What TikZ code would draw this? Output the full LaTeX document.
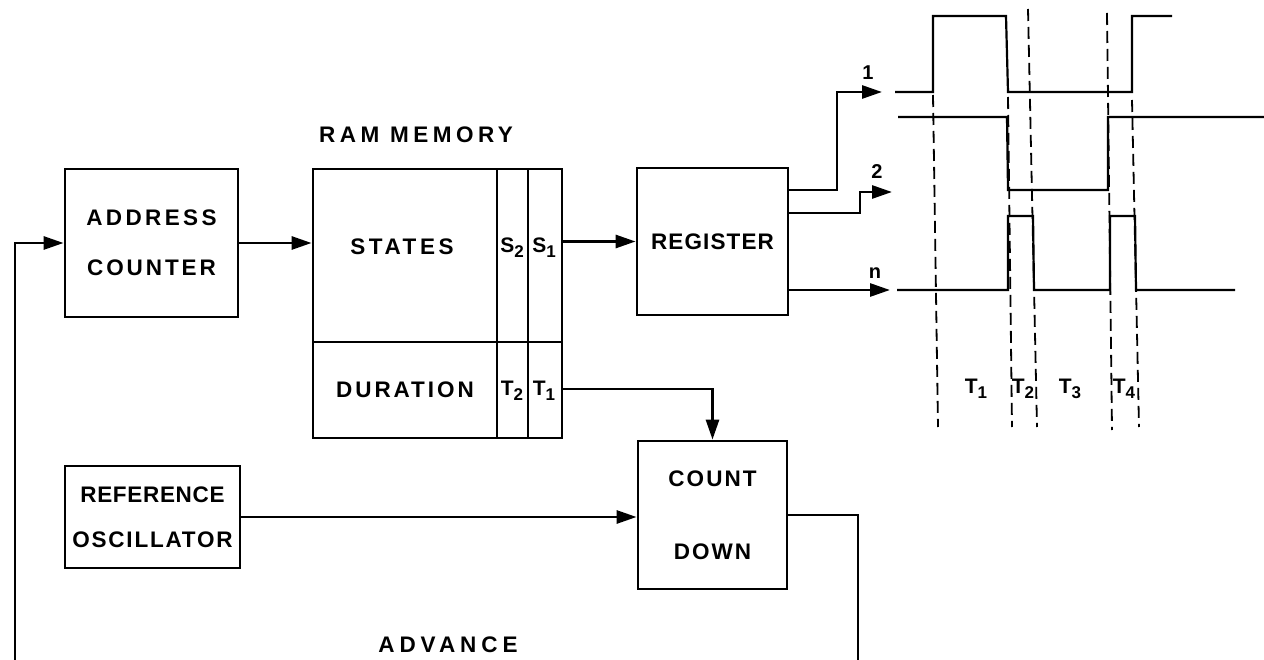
\documentclass[tikz,border=0pt]{standalone}
\usepackage{fontspec}
\setmainfont{Liberation Sans}
\usetikzlibrary{arrows.meta}
\newcommand{\lsp}[2]{{\addfontfeature{LetterSpace=#1}#2}}
\newcommand{\sbs}[1]{\raisebox{-0.45ex}{\fontsize{17}{17}\selectfont #1}}
\begin{document}
\begin{tikzpicture}[x=1pt,y=-1pt,
  box/.style={draw, line width=2.8pt, inner sep=0pt},
  wire/.style={line width=2.8pt},
  arr/.style={line width=2.8pt, -{Triangle[length=20pt,width=13pt]}},
  wave/.style={line width=2.2pt},
  dsh/.style={line width=1.8pt, dash pattern=on 12pt off 6pt},
  lbl/.style={font=\bfseries\fontsize{22.5}{27}\selectfont, inner sep=0pt},
  sml/.style={font=\bfseries\fontsize{21}{25}\selectfont, inner sep=0pt},
  num/.style={font=\bfseries\fontsize{20}{22}\selectfont, inner sep=0pt}
]
\useasboundingbox (0,0) rectangle (1264,660);

% blocks
\node[box, lbl, align=center, minimum width=173pt, minimum height=148pt] (addr) at (151.5,243)
  {\lsp{15}{ADDRESS}\\[23pt]\lsp{13}{COUNTER}};
\node[box, minimum width=249pt, minimum height=269pt] (ram) at (437.5,303.5) {};
\node[box, lbl, minimum width=151pt, minimum height=147pt] (reg) at (712.5,241.5) {\lsp{5}{REGISTER}};
\node[box, lbl, align=center, minimum width=149pt, minimum height=148pt] (cd) at (712.5,515)
  {\lsp{9}{COUNT}\\[46pt]\lsp{9}{DOWN}};
\node[box, lbl, align=center, minimum width=175pt, minimum height=102pt] (osc) at (152.5,517)
  {\lsp{3}{REFERENCE}\\[18pt]\lsp{8}{OSCILLATOR}};

% RAM inner divisions
\draw[wire] (313,342) -- (562,342);
\draw[wire] (497,169) -- (497,438);
\draw[wire] (528,169) -- (528,438);
\node[lbl] (states) at (402,247) {\lsp{16}{STATES}};
\node[lbl] (dur) at (405,390) {\lsp{13}{DURATION}};
\node[sml] (s2) at (512,248) {S\sbs{2}};
\node[sml] (s1) at (544,248) {S\sbs{1}};
\node[sml] (tt2) at (512,391) {T\sbs{2}};
\node[sml] (tt1) at (544,391) {T\sbs{1}};
\node[lbl] (ramlbl) at (416,135) {\lsp{20}{RAM MEMORY}};
\node[lbl] (adv) at (448,645) {\lsp{22}{ADVANCE}};

% connectors
\coordinate (fb) at (15,662);
\coordinate (advend) at (858,662);
\coordinate (tout) at (562,389);
\draw[arr] (fb) |- (addr.west);
\draw[arr] (addr.east) -- (addr.east -| ram.west);
\draw[arr] (reg.west -| ram.east) -- (reg.west);
\draw[arr] (tout) -| (cd.north);
\draw[arr] (osc.east) -- (osc.east -| cd.west);
\draw[wire] (cd.east) -| (advend);

% register outputs
\coordinate (o1) at (788,190);
\coordinate (o2) at (788,213);
\coordinate (on) at (788,290);
\coordinate (t1) at (882,92);
\coordinate (t2) at (892,192);
\coordinate (tn) at (890,290);
\draw[arr] (o1) -- (837,190) |- (t1);
\draw[arr] (o2) -- (860,213) |- (t2);
\draw[arr] (on) -- (tn);
\node[num] (l1) at (868,73) {1};
\node[num] (l2) at (877,172) {2};
\node[num] (ln) at (875,273) {n};

% waveforms
\draw[wave] (895,92) -- (933,92) -- (933,16) -- (1006,16) -- (1008,92) -- (1132,92) -- (1132,16) -- (1172,16);
\draw[wave] (898,117) -- (1007,117) -- (1008,190) -- (1108,190) -- (1108,117) -- (1264,117);
\draw[wave] (897,290) -- (1008,290) -- (1008,216) -- (1033,216) -- (1034,290) -- (1110,290) -- (1110,216) -- (1135,216) -- (1136,290) -- (1235,290);

% dashed time markers
\draw[dsh] (933,95) -- (938,427);
\draw[dsh] (1008,97) -- (1012,427);
\draw[dsh] (1028,9) -- (1037,427);
\draw[dsh] (1107,13) -- (1112,430);
\draw[dsh] (1132,100) -- (1139,427);
\node[sml] (w1) at (976,389) {T\sbs{1}};
\node[sml] (w2) at (1023,389) {T\sbs{2}};
\node[sml] (w3) at (1070,389) {T\sbs{3}};
\node[sml] (w4) at (1124,389) {T\sbs{4}};
\end{tikzpicture}
\end{document}
